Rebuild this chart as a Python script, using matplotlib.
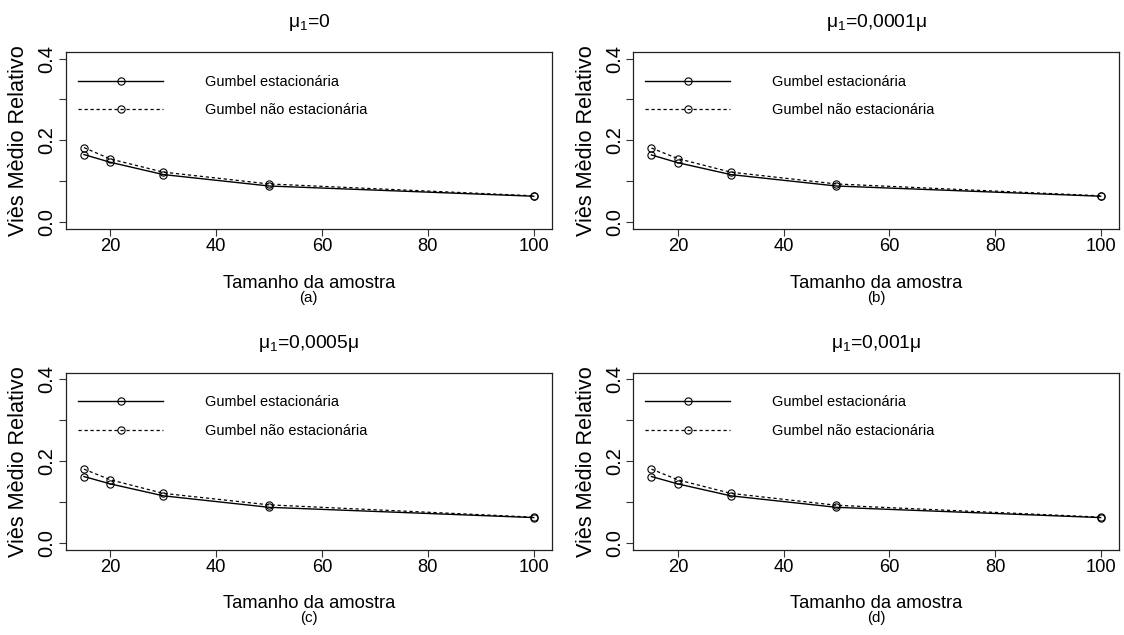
import matplotlib
matplotlib.use("Agg")
import matplotlib.pyplot as plt
from matplotlib import font_manager

# ---------------- data ----------------
sample_sizes = [15, 20, 30, 50, 100]
titles = ["μ$_1$=0", "μ$_1$=0,0001μ", "μ$_1$=0,0005μ", "μ$_1$=0,001μ"]
sublabels = ["(a)", "(b)", "(c)", "(d)"]
stat_a = [0.165, 0.146, 0.116, 0.088, 0.063]
nonstat_a = [0.182, 0.154, 0.122, 0.093, 0.064]
stat_b = [0.164, 0.145, 0.116, 0.088, 0.063]
nonstat_b = [0.181, 0.155, 0.122, 0.093, 0.064]
stat_c = [0.163, 0.145, 0.116, 0.088, 0.063]
nonstat_c = [0.181, 0.155, 0.122, 0.094, 0.064]
stat_d = [0.163, 0.145, 0.116, 0.088, 0.063]
nonstat_d = [0.181, 0.155, 0.122, 0.093, 0.064]
series_names = ["Gumbel estacionária", "Gumbel não estacionária"]
xticks = [20, 40, 60, 80, 100]
yticks = [0.0, 0.1, 0.2, 0.3, 0.4]
yticklabels = ["0.0", "", "0.2", "", "0.4"]
xlabel = "Tamanho da amostra"
ylabel = "Viès Mèdio Relativo"

# ---------------- fonts ----------------
names = {f.name for f in font_manager.fontManager.ttflist}
if "Liberation Sans Narrow" in names:
    NARROW = "Liberation Sans Narrow"
    nscale = 1.0
else:
    NARROW = "Liberation Sans"
    nscale = 0.84
REG = "Liberation Sans"
plt.rcParams["font.family"] = [REG, "DejaVu Sans"]
plt.rcParams["mathtext.fontset"] = "custom"
plt.rcParams["mathtext.rm"] = NARROW
plt.rcParams["mathtext.default"] = "regular"

W, H = 1124, 635
fig = plt.figure(figsize=(W / 100, H / 100), dpi=100)

panels = [
    (66.0, 551.7, 52.0, 228.5, stat_a, nonstat_a, 27.0, 288.0, 302.0),
    (633.5, 1118.6, 52.0, 228.5, stat_b, nonstat_b, 27.0, 288.0, 302.0),
    (66.0, 551.7, 372.7, 550.0, stat_c, nonstat_c, 347.5, 608.0, 622.0),
    (633.5, 1118.6, 372.7, 550.0, stat_d, nonstat_d, 347.5, 608.0, 622.0),
]

tick_fs = 15.8 * nscale
leg_fs = 12.4 * nscale
leg_px = leg_fs * 100 / 72
for i, (x0, x1, y0, y1, st, ns, ty, xly, suby) in enumerate(panels):
    ax = fig.add_axes([x0 / W, 1 - y1 / H, (x1 - x0) / W, (y1 - y0) / H])
    ax.set_xlim(11.6, 103.4)
    ax.set_ylim(-0.016, 0.416)
    l1, = ax.plot(sample_sizes, st, color="black", lw=1.0, marker="o",
                  markersize=5.2, markerfacecolor="none", markeredgewidth=0.8)
    l2, = ax.plot(sample_sizes, ns, color="black", lw=0.9, linestyle=(0, (2.6, 2.2)),
                  marker="o", markersize=5.2, markerfacecolor="none", markeredgewidth=0.8)
    ax.set_xticks(xticks)
    ax.set_xticklabels([str(v) for v in xticks], fontfamily=NARROW, fontsize=tick_fs)
    ax.set_yticks(yticks)
    ax.set_yticklabels(yticklabels, fontfamily=REG, fontsize=14.5, rotation=90,
                       va="center")
    ax.tick_params(axis="both", direction="out", length=5.3, width=0.8, color="#333333")
    ax.tick_params(axis="x", pad=1.2)
    ax.tick_params(axis="y", pad=1.5)
    for sp in ax.spines.values():
        sp.set_linewidth(0.9)
        sp.set_color("#222222")
    ax.legend([l1, l2], series_names, loc="upper left",
              bbox_to_anchor=(12 / (x1 - x0), 1 - 22.8 / (y1 - y0)),
              frameon=False, borderpad=0, borderaxespad=0,
              handlelength=85 / leg_px, handletextpad=42 / leg_px,
              labelspacing=0.99, numpoints=1,
              prop={"family": NARROW, "size": leg_fs})
    cx = (x0 + x1) / 2 / W
    fig.text(cx, 1 - ty / H, titles[i], ha="center", va="baseline",
             fontfamily=NARROW, fontsize=16.5 * nscale)
    fig.text(cx, 1 - xly / H, xlabel, ha="center", va="baseline",
             fontfamily=NARROW, fontsize=15.8 * nscale)
    fig.text(cx, 1 - suby / H, sublabels[i], ha="center", va="baseline",
             fontfamily=NARROW, fontsize=13.0 * nscale)
    fig.text((x0 - 47.3) / W, 1 - (y0 + y1) / 2 / H, ylabel, ha="center", va="center",
             rotation=90, fontfamily=REG, fontsize=15.6)

fig.savefig("out.png", dpi=100)
